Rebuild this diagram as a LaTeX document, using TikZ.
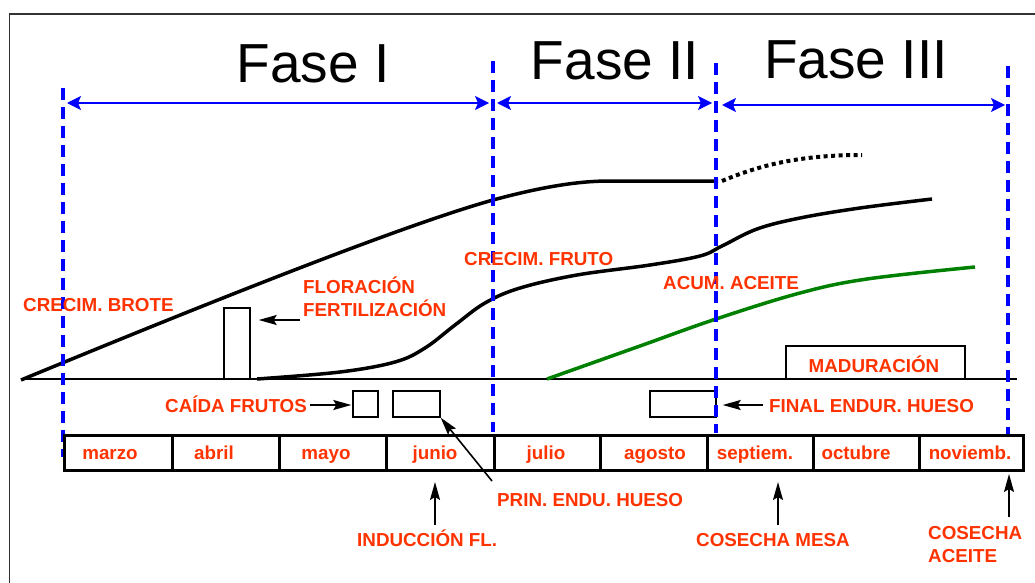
\documentclass[tikz,border=0pt]{standalone}
\usepackage{fontspec}
\setmainfont{Liberation Sans}
\usetikzlibrary{arrows.meta}
\definecolor{lblred}{RGB}{255,51,0}
\definecolor{phaseblue}{RGB}{0,0,255}
\definecolor{oilgreen}{RGB}{0,128,0}
\begin{document}
\begin{tikzpicture}[x=1pt,y=-1pt,
  lbl/.style={text=lblred,font=\bfseries\fontsize{18.8}{21}\selectfont,inner sep=0pt},
  fase/.style={font=\fontsize{55}{60}\selectfont,inner sep=0pt,anchor=base},
  phaseline/.style={phaseblue,line width=3.6pt,dash pattern=on 12pt off 7pt},
  phasearrow/.style={phaseblue,line width=1.4pt,{Stealth[length=14pt,width=14pt,inset=3pt]}-{Stealth[length=14pt,width=14pt,inset=3pt]}},
  blkarrow/.style={black,line width=1.6pt,-{Stealth[length=18pt,width=10pt,inset=3pt]}},
  curve/.style={black,line width=3.5pt},
  smallbox/.style={draw=black,line width=1.4pt,inner sep=0pt},
  cell/.style={draw=black,line width=3pt,inner sep=0pt,minimum height=35pt},
]
\useasboundingbox (0,0) rectangle (1035,583);
% frame
\draw[black!80,line width=1.5pt] (9.5,583) -- (9.5,14) -- (1035,14);

% phase titles
\node[fase] (f1) at (313,83) {Fase I};
\node[fase] (f2) at (615,80) {Fase II};
\node[fase] (f3) at (856,79) {Fase III};

% phase boundaries
\coordinate (b1t) at (63,88);   \coordinate (b1b) at (63,457);
\coordinate (b2t) at (493,61);  \coordinate (b2b) at (493,432);
\coordinate (b3t) at (716,63);  \coordinate (b3b) at (716,433);
\coordinate (b4t) at (1008,66); \coordinate (b4b) at (1008,435);

% phase arrows
\coordinate (a1l) at (67,103);  \coordinate (a1r) at (489,103);
\coordinate (a2l) at (497,103); \coordinate (a2r) at (712,103);
\coordinate (a3l) at (722,105); \coordinate (a3r) at (1005,105);
\draw[phasearrow] (a1l) -- (a1r);
\draw[phasearrow] (a2l) -- (a2r);
\draw[phasearrow] (a3l) -- (a3r);

% baseline
\draw[black,line width=1.5pt] (21,379) -- (1017,379);

% shoot growth curve
\draw[curve] (21,380) .. controls (200,306) and (400,226) .. (493,200)
  .. controls (545,186) and (580,181) .. (610,181) -- (718,181);
\draw[black,line width=4pt,dash pattern=on 4pt off 3.5pt]
  (722,181) .. controls (760,165) and (800,155) .. (862,155);

% fruit growth curve
\draw[curve] plot[smooth,tension=0.6] coordinates {(257,379) (340,372) (395,362) (425,348) (455,325) (485,303) (520,288) (577,275) (650,265) (700,256) (722,246) (757,229) (800,218) (860,208) (932,199)};

% oil accumulation
\draw[oilgreen,line width=3.5pt] plot[smooth,tension=0.6] coordinates {(547,379) (640,346) (716,319) (800,293) (867,279) (975,267)};

% boxes
\node[smallbox,minimum width=26pt,minimum height=71pt] (flor) at (237,343.5) {};
\node[smallbox,minimum width=25pt,minimum height=26pt] (caida) at (365.5,404) {};
\node[smallbox,minimum width=47pt,minimum height=26pt] (prin) at (416.5,404) {};
\node[smallbox,minimum width=66pt,minimum height=26pt] (final) at (683,404) {};
\node[smallbox,minimum width=179pt,minimum height=33pt] (madu) at (875.5,362.5) {};
\node[lbl,anchor=base] (madut) at (874,372) {MADURACIÓN};

% blue dashed phase lines (over boxes)
\draw[phaseline] (b1t) -- (b1b);
\draw[phaseline] (b2t) -- (b2b);
\draw[phaseline] (b3t) -- (b3b);
\draw[phaseline] (b4t) -- (b4b);

% month table
\node[cell,minimum width=108pt,anchor=north west] (m1) at (63,434) {};
\node[cell,minimum width=107pt,anchor=north west] (m2) at (171,434) {};
\node[cell,minimum width=107pt,anchor=north west] (m3) at (278,434) {};
\node[cell,minimum width=108pt,anchor=north west] (m4) at (385,434) {};
\node[cell,minimum width=106pt,anchor=north west] (m5) at (493,434) {};
\node[cell,minimum width=107pt,anchor=north west] (m6) at (599,434) {};
\node[cell,minimum width=106pt,anchor=north west] (m7) at (706,434) {};
\node[cell,minimum width=106pt,anchor=north west] (m8) at (812,434) {};
\node[cell,minimum width=104pt,anchor=north west] (m9) at (918,434) {};
\node[lbl,anchor=base] at (110,459) {marzo};
\node[lbl,anchor=base] at (214,459) {abril};
\node[lbl,anchor=base] at (326,459) {mayo};
\node[lbl,anchor=base] at (435,459) {junio};
\node[lbl,anchor=base] at (546,459) {julio};
\node[lbl,anchor=base] at (655,459) {agosto};
\node[lbl,anchor=base] at (755,459) {septiem.};
\node[lbl,anchor=base] at (856,459) {octubre};
\node[lbl,anchor=base] at (970,459) {noviemb.};

% labels
\node[lbl,anchor=base west] (brote) at (23,311.5) {CRECIM. BROTE};
\node[lbl,anchor=base west] (flort) at (303,293.5) {FLORACIÓN};
\node[lbl,anchor=base west] (fert) at (303,316.5) {FERTILIZACIÓN};
\node[lbl,anchor=base west] (fruto) at (464,265.5) {CRECIM. FRUTO};
\node[lbl,anchor=base west] (acum) at (663,289.5) {ACUM. ACEITE};
\node[lbl,anchor=base west] (caidat) at (165,412) {CAÍDA FRUTOS};
\node[lbl,anchor=base west] (finalt) at (769,412) {FINAL ENDUR. HUESO};
\node[lbl,anchor=base west] (print) at (497,506) {PRIN. ENDU. HUESO};
\node[lbl,anchor=base west] (induc) at (357,546) {INDUCCIÓN FL.};
\node[lbl,anchor=base west] (mesa) at (696,546) {COSECHA MESA};
\node[lbl,anchor=base west] (aceite1) at (928,539) {COSECHA};
\node[lbl,anchor=base west] (aceite2) at (928,562) {ACEITE};

% black arrows
\coordinate (fa) at (300,320);
\draw[blkarrow] (fa) -- ([xshift=8pt]flor.east|-fa);
\coordinate (ca) at (310,405);
\draw[blkarrow] (ca) -- ([xshift=-1pt]caida.west|-ca);
\coordinate (fi) at (763,405);
\draw[blkarrow] (fi) -- ([xshift=6pt]final.east|-fi);
\coordinate (pa) at (492,481);
\draw[blkarrow] (pa) -- (prin.south east);
\coordinate (ia) at (435,525); \coordinate (ib) at (435,482);
\draw[blkarrow] (ia) -- (ib);
\coordinate (ma) at (778,525); \coordinate (mb) at (778,482);
\draw[blkarrow] (ma) -- (mb);
\coordinate (ca1) at (1009,517); \coordinate (ca2) at (1009,474);
\draw[blkarrow] (ca1) -- (ca2);
\end{tikzpicture}
\end{document}
